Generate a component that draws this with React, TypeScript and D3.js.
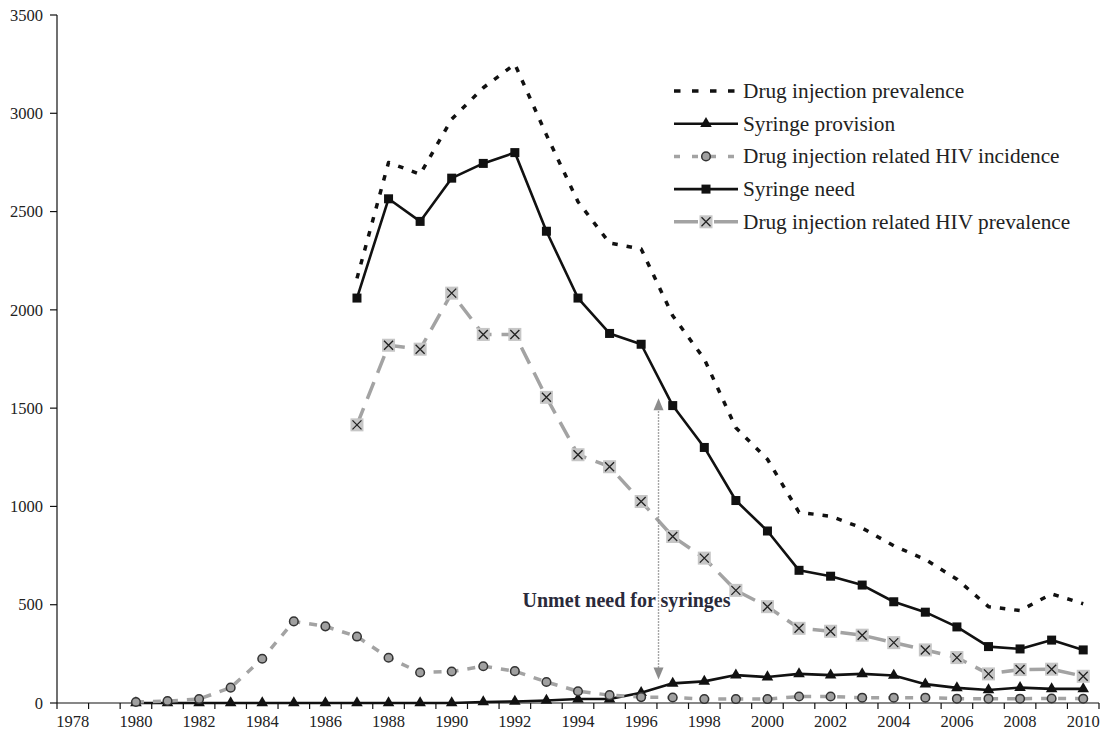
import React, { useRef, useEffect } from 'react';
import * as d3 from 'd3';

// categories
const years = [
  1978, 1979, 1980, 1981, 1982, 1983, 1984, 1985, 1986, 1987, 1988, 1989, 1990, 1991, 1992, 1993, 1994,
  1995, 1996, 1997, 1998, 1999, 2000, 2001, 2002, 2003, 2004, 2005, 2006, 2007, 2008, 2009, 2010,
];
const yTicks = [0, 500, 1000, 1500, 2000, 2500, 3000, 3500];

// series, 1987-2010
const drugInjPrevalence = [
  2160, 2750, 2690, 2970, 3130, 3250, 2890, 2550, 2340, 2310, 1970, 1750, 1400, 1240, 970, 950, 890, 800,
  730, 630, 490, 470, 555, 505,
];
const syringeNeed = [
  2060, 2565, 2450, 2670, 2745, 2800, 2400, 2060, 1880, 1825, 1513, 1300, 1030, 875, 675, 645, 600, 515,
  462, 387, 287, 275, 320, 270,
];
const hivPrevalence = [
  1415, 1820, 1800, 2085, 1875, 1875, 1555, 1263, 1202, 1025, 847, 737, 573, 490, 380, 365, 345, 307, 270,
  231, 148, 170, 172, 136,
];
// series, 1980-2010
const hivIncidence = [
  5, 10, 20, 78, 225, 415, 390, 338, 230, 155, 160, 187, 162, 107, 60, 40, 30, 28, 20, 20, 20, 33, 33, 27,
  27, 27, 22, 22, 22, 23, 22,
];
const syringeProvision = [
  0, 0, 0, 0, 0, 0, 0, 0, 0, 0, 0, 5, 8, 13, 20, 20, 52, 100, 110, 142, 132, 148, 142, 148, 140, 96, 77, 66,
  78, 72, 72,
];

const legendLabels = [
  'Drug injection prevalence',
  'Syringe provision',
  'Drug injection related HIV incidence',
  'Syringe need',
  'Drug injection related HIV prevalence',
];

// annotation (data units)
const unmetText = 'Unmet need for syringes';
const arrowYear = 1996.55;
const arrowLow = 120;
const arrowHigh = 1550;

const W = 1104;
const H = 740;
const FONT = '"Liberation Serif", "Times New Roman", serif';
const GRAY = '#a3a3a3';

type Kind = 'dotted' | 'tri' | 'circle' | 'square' | 'xbox';

const App: React.FC = () => {
  const svgRef = useRef<SVGSVGElement>(null);

  useEffect(() => {
    if (!svgRef.current) return;
    const svg = d3.select(svgRef.current);
    svg.selectAll('*').remove();

    const x = d3
      .scaleBand<number>()
      .domain(years)
      .range([57, 1099])
      .padding(0);
    const bw = x.bandwidth();
    const cx = (yr: number) => (x(yr) as number) + bw / 2;
    const y = d3.scaleLinear().domain([0, 3500]).range([703, 15]);

    const seriesFrom = (start: number, vals: number[]) =>
      vals.map((v, i) => ({ yr: start + i, v }));

    const line = d3
      .line<{ yr: number; v: number }>()
      .x((d) => cx(d.yr))
      .y((d) => y(d.v));

    // y axis
    const yAxis = svg.append('g');
    yAxis
      .append('line')
      .attr('x1', 57)
      .attr('x2', 57)
      .attr('y1', y(3500))
      .attr('y2', y(0))
      .attr('stroke', '#111')
      .attr('stroke-width', 1.2);
    yTicks.forEach((t) => {
      yAxis
        .append('line')
        .attr('x1', 50)
        .attr('x2', 57)
        .attr('y1', y(t))
        .attr('y2', y(t))
        .attr('stroke', '#111')
        .attr('stroke-width', 1.2);
      yAxis
        .append('text')
        .attr('x', 43)
        .attr('y', y(t))
        .attr('dy', '0.35em')
        .attr('text-anchor', 'end')
        .attr('font-family', FONT)
        .attr('font-size', '16.5px')
        .attr('fill', '#222')
        .text(String(t));
    });

    // x axis
    const xAxis = svg.append('g');
    xAxis
      .append('line')
      .attr('x1', 57)
      .attr('x2', 1099)
      .attr('y1', y(0))
      .attr('y2', y(0))
      .attr('stroke', '#111')
      .attr('stroke-width', 1.2);
    [...years.map((yr) => x(yr) as number), 1099].forEach((bx) => {
      xAxis
        .append('line')
        .attr('x1', bx)
        .attr('x2', bx)
        .attr('y1', y(0))
        .attr('y2', y(0) + 6)
        .attr('stroke', '#111')
        .attr('stroke-width', 1.2);
    });
    years
      .filter((yr) => yr % 2 === 0)
      .forEach((yr) => {
        xAxis
          .append('text')
          .attr('x', cx(yr))
          .attr('y', 727)
          .attr('text-anchor', 'middle')
          .attr('font-family', FONT)
          .attr('font-size', '16.5px')
          .attr('fill', '#222')
          .text(String(yr));
      });

    // marker drawing
    const drawMarker = (g: d3.Selection<SVGGElement, unknown, null, undefined>, kind: Kind, mx: number, my: number) => {
      if (kind === 'tri') {
        g.append('path')
          .attr('d', d3.symbol().type(d3.symbolTriangle).size(58)())
          .attr('transform', `translate(${mx},${my})`)
          .attr('fill', '#111');
      } else if (kind === 'square') {
        g.append('rect')
          .attr('x', mx - 4.5)
          .attr('y', my - 4.5)
          .attr('width', 9)
          .attr('height', 9)
          .attr('fill', '#111');
      } else if (kind === 'circle') {
        g.append('circle')
          .attr('cx', mx)
          .attr('cy', my)
          .attr('r', 4.3)
          .attr('fill', '#a0a0a0')
          .attr('stroke', '#333')
          .attr('stroke-width', 1.5);
      } else if (kind === 'xbox') {
        g.append('rect')
          .attr('x', mx - 6.5)
          .attr('y', my - 6.5)
          .attr('width', 13)
          .attr('height', 13)
          .attr('fill', '#c6c6c6');
        const s = 4.5;
        g.append('path')
          .attr('d', `M${mx - s},${my - s}L${mx + s},${my + s}M${mx + s},${my - s}L${mx - s},${my + s}`)
          .attr('stroke', '#222')
          .attr('stroke-width', 1.3);
      }
    };

    const series: { kind: Kind; data: { yr: number; v: number }[]; stroke: string; width: number; dash: string }[] = [
      { kind: 'dotted', data: seriesFrom(1987, drugInjPrevalence), stroke: '#111', width: 3.5, dash: '5.5,9' },
      { kind: 'tri', data: seriesFrom(1980, syringeProvision), stroke: '#111', width: 2.6, dash: 'none' },
      { kind: 'circle', data: seriesFrom(1980, hivIncidence), stroke: GRAY, width: 3.5, dash: '8,9' },
      { kind: 'square', data: seriesFrom(1987, syringeNeed), stroke: '#111', width: 2.6, dash: 'none' },
      { kind: 'xbox', data: seriesFrom(1987, hivPrevalence), stroke: GRAY, width: 3.5, dash: '18,10' },
    ];

    series.forEach((s) => {
      const g = svg.append('g');
      g.append('path')
        .attr('d', line(s.data))
        .attr('fill', 'none')
        .attr('stroke', s.stroke)
        .attr('stroke-width', s.width)
        .attr('stroke-dasharray', s.dash)
        .attr('stroke-linejoin', 'round');
      if (s.kind !== 'dotted') s.data.forEach((d) => drawMarker(g, s.kind, cx(d.yr), y(d.v)));
    });

    // legend
    const legend = svg.append('g');
    series.forEach((s, i) => {
      const ly = 91 + i * 32.7;
      const g = legend.append('g');
      g.append('line')
        .attr('x1', 674)
        .attr('x2', 738)
        .attr('y1', ly)
        .attr('y2', ly)
        .attr('stroke', s.stroke)
        .attr('stroke-width', s.width)
        .attr('stroke-dasharray', s.kind === 'dotted' ? '6.5,11.5' : s.kind === 'circle' ? '6,12' : s.kind === 'xbox' ? '24,16' : 'none');
      if (s.kind !== 'dotted') drawMarker(g, s.kind, 706, ly);
      g.append('text')
        .attr('x', 743)
        .attr('y', ly)
        .attr('dy', '0.33em')
        .attr('font-family', FONT)
        .attr('font-size', '21.3px')
        .attr('fill', '#222')
        .text(legendLabels[i]);
    });

    // unmet need annotation
    const ax = (x(Math.floor(arrowYear)) as number) + bw / 2 + (arrowYear - Math.floor(arrowYear)) * bw;
    const yTop = y(arrowHigh);
    const yBot = y(arrowLow);
    const ann = svg.append('g');
    ann
      .append('line')
      .attr('x1', ax)
      .attr('x2', ax)
      .attr('y1', yTop + 10)
      .attr('y2', yBot - 10)
      .attr('stroke', '#888')
      .attr('stroke-width', 1.4)
      .attr('stroke-dasharray', '1.5,1.5');
    ann
      .append('path')
      .attr('d', `M${ax},${yTop}L${ax - 5},${yTop + 12}L${ax + 5},${yTop + 12}Z`)
      .attr('fill', '#8c8c8c');
    ann
      .append('path')
      .attr('d', `M${ax},${yBot}L${ax - 5},${yBot - 12}L${ax + 5},${yBot - 12}Z`)
      .attr('fill', '#8c8c8c');
    ann
      .append('text')
      .attr('x', ax - 32)
      .attr('y', 607)
      .attr('text-anchor', 'middle')
      .attr('font-family', FONT)
      .attr('font-weight', 'bold')
      .attr('font-size', '20px')
      .attr('fill', '#2a2a3a')
      .text(unmetText);
  }, []);

  return (
    <div style={{ position: 'absolute', left: 0, top: 0, width: W, height: H, background: '#fff' }}>
      <svg ref={svgRef} width={W} height={H} />
    </div>
  );
};

export default App;
